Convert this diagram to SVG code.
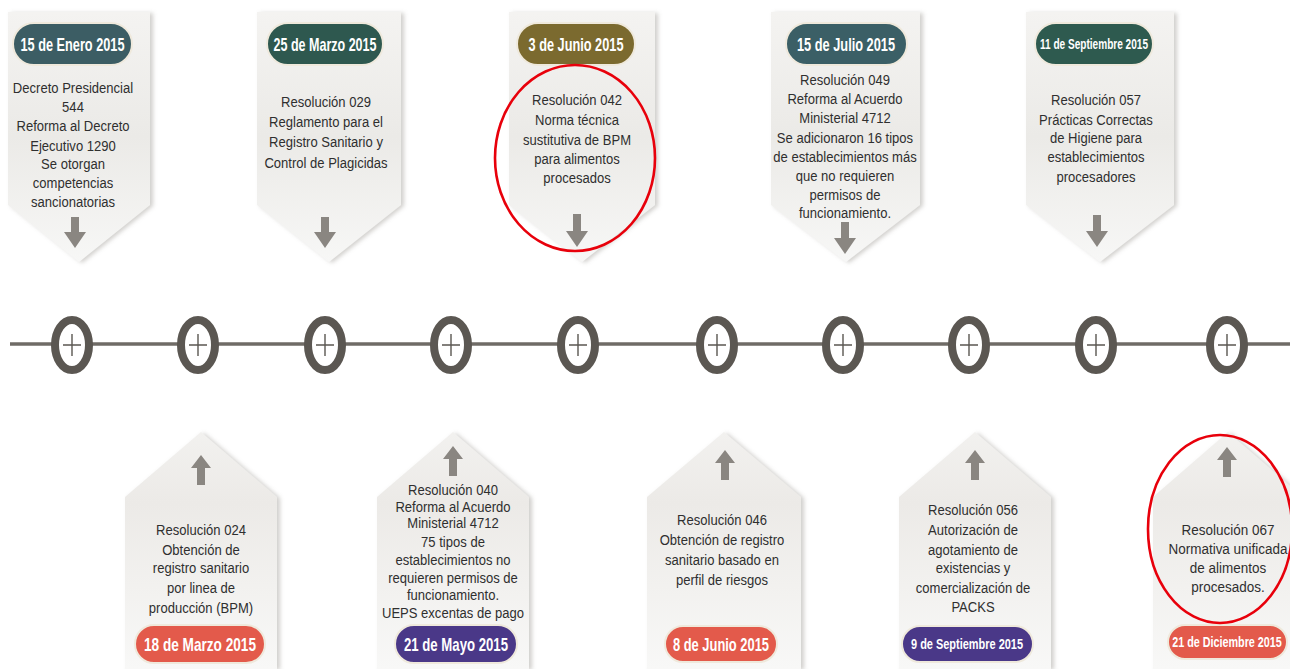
<svg xmlns="http://www.w3.org/2000/svg" width="1290" height="669" viewBox="0 0 1290 669">
<defs>
<linearGradient id="gTop" x1="0" y1="0" x2="0" y2="1">
<stop offset="0" stop-color="#f4f3f1"/>
<stop offset="0.5" stop-color="#ebeae7"/>
<stop offset="1" stop-color="#f7f7f6"/>
</linearGradient>
<linearGradient id="gBot" x1="0" y1="0" x2="0" y2="1">
<stop offset="0" stop-color="#f2f1ef"/>
<stop offset="0.3" stop-color="#eceae7"/>
<stop offset="1" stop-color="#f8f8f7"/>
</linearGradient>
<filter id="sh" x="-10%" y="-10%" width="130%" height="130%">
<feDropShadow dx="3" dy="1" stdDeviation="2" flood-color="#9a968f" flood-opacity="0.45"/>
</filter>
<style>
.card{stroke:none;filter:url(#sh)}
.body{font-family:"Liberation Sans",Arial,sans-serif;font-size:15px;fill:#2f2f2f;text-anchor:middle}
.date{font-family:"Liberation Sans",Arial,sans-serif;font-weight:bold;font-size:19px;fill:#ffffff;text-anchor:middle}
.pill{stroke:#efe9dc;stroke-width:2}
.arr{fill:#8a8681}
.node{fill:#ffffff;stroke:#5b5752;stroke-width:8}
.plus{stroke:#5b5752;stroke-width:1.4}
.mark{fill:none;stroke:#e8000b;stroke-width:2.6}
</style>
</defs>
<rect width="1290" height="669" fill="#ffffff"/>

<g id="connectors">
<line x1="10" y1="344" x2="1290" y2="344" stroke="#6f6b66" stroke-width="3.5"/>
</g>

<g id="card-15-enero">
<polygon class="card" fill="url(#gTop)" points="8,12 150,12 150,205 79,262 8,205"/>
<rect class="pill" x="13" y="23" width="119" height="42" rx="21" fill="#3c5d64"/>
<text class="date" x="72.5" y="51" textLength="104" lengthAdjust="spacingAndGlyphs">15 de Enero 2015</text>
<text class="body" transform="translate(73 0) scale(0.87 1)"><tspan x="0" y="93">Decreto Presidencial</tspan><tspan x="0" y="112">544</tspan><tspan x="0" y="131">Reforma al Decreto</tspan><tspan x="0" y="151">Ejecutivo 1290</tspan><tspan x="0" y="169">Se otorgan</tspan><tspan x="0" y="188">competencias</tspan><tspan x="0" y="207">sancionatorias</tspan></text>
<polygon class="arr" points="71,217 79,217 79,232 86,232 75,248 64,232 71,232"/>
</g>

<g id="card-25-marzo">
<polygon class="card" fill="url(#gTop)" points="257,12 401,12 401,205 329,262 257,205"/>
<rect class="pill" x="267" y="23" width="116" height="42" rx="21" fill="#2e584f"/>
<text class="date" x="325" y="51" textLength="103" lengthAdjust="spacingAndGlyphs">25 de Marzo 2015</text>
<text class="body" transform="translate(326 0) scale(0.87 1)"><tspan x="0" y="107">Resolución 029</tspan><tspan x="0" y="127">Reglamento para el</tspan><tspan x="0" y="147">Registro Sanitario y</tspan><tspan x="0" y="168">Control de Plagicidas</tspan></text>
<polygon class="arr" points="321,217 329,217 329,232 336,232 325,248 314,232 321,232"/>
</g>

<g id="card-3-junio">
<polygon class="card" fill="url(#gTop)" points="509,12 655,12 655,205 582,262 509,205"/>
<rect class="pill" x="517" y="23" width="118" height="42" rx="21" fill="#7b6a2f"/>
<text class="date" x="576" y="51" textLength="95" lengthAdjust="spacingAndGlyphs">3 de Junio 2015</text>
<text class="body" transform="translate(577 0) scale(0.87 1)"><tspan x="0" y="105">Resolución 042</tspan><tspan x="0" y="125">Norma técnica</tspan><tspan x="0" y="145">sustitutiva de BPM</tspan><tspan x="0" y="164">para alimentos</tspan><tspan x="0" y="183">procesados</tspan></text>
<polygon class="arr" points="573,214 581,214 581,231 588,231 577,247 566,231 573,231"/>
</g>

<g id="card-15-julio">
<polygon class="card" fill="url(#gTop)" points="771,12 920,12 920,205 846,262 771,205"/>
<rect class="pill" x="786" y="23" width="121" height="42" rx="21" fill="#3b5f66"/>
<text class="date" x="846" y="51" textLength="98" lengthAdjust="spacingAndGlyphs">15 de Julio 2015</text>
<text class="body" transform="translate(845 0) scale(0.87 1)"><tspan x="0" y="85">Resolución 049</tspan><tspan x="0" y="104">Reforma al Acuerdo</tspan><tspan x="0" y="123">Ministerial 4712</tspan><tspan x="0" y="143">Se adicionaron 16 tipos</tspan><tspan x="0" y="162">de establecimientos más</tspan><tspan x="0" y="181">que no requieren</tspan><tspan x="0" y="200">permisos de</tspan><tspan x="0" y="218">funcionamiento.</tspan></text>
<polygon class="arr" points="841,222 849,222 849,238 856,238 845,254 834,238 841,238"/>
</g>

<g id="card-11-septiembre">
<polygon class="card" fill="url(#gTop)" points="1026,12 1174,12 1174,205 1100,262 1026,205"/>
<rect class="pill" x="1035" y="23" width="118" height="42" rx="21" fill="#2e5a4f"/>
<text class="date" x="1094" y="49" style="font-size:14px" textLength="108" lengthAdjust="spacingAndGlyphs">11 de Septiembre 2015</text>
<text class="body" transform="translate(1096 0) scale(0.87 1)"><tspan x="0" y="105">Resolución 057</tspan><tspan x="0" y="125">Prácticas Correctas</tspan><tspan x="0" y="143">de Higiene para</tspan><tspan x="0" y="162">establecimientos</tspan><tspan x="0" y="182">procesadores</tspan></text>
<polygon class="arr" points="1093,215 1101,215 1101,231 1108,231 1097,247 1086,231 1093,231"/>
</g>

<g id="card-18-marzo">
<polygon class="card" fill="url(#gBot)" points="125,669 125,497 201,432 277,497 277,669"/>
<polygon class="arr" points="201,455 211,468 205,468 205,485 197,485 197,468 191,468"/>
<text class="body" transform="translate(201 0) scale(0.87 1)"><tspan x="0" y="535">Resolución 024</tspan><tspan x="0" y="555">Obtención de</tspan><tspan x="0" y="573">registro sanitario</tspan><tspan x="0" y="593">por linea de</tspan><tspan x="0" y="613">producción (BPM)</tspan></text>
<rect class="pill" x="135" y="625" width="130" height="38" rx="19" fill="#e35a4b"/>
<text class="date" x="200" y="651" textLength="112" lengthAdjust="spacingAndGlyphs">18 de Marzo 2015</text>
</g>

<g id="card-21-mayo">
<polygon class="card" fill="url(#gBot)" points="377,669 377,497 453,432 529,497 529,669"/>
<polygon class="arr" points="453,446 463,459 457,459 457,476 449,476 449,459 443,459"/>
<text class="body" transform="translate(453 0) scale(0.87 1)"><tspan x="0" y="495">Resolución 040</tspan><tspan x="0" y="512">Reforma al Acuerdo</tspan><tspan x="0" y="528">Ministerial 4712</tspan><tspan x="0" y="547">75 tipos de</tspan><tspan x="0" y="565">establecimientos no</tspan><tspan x="0" y="583">requieren permisos de</tspan><tspan x="0" y="600">funcionamiento.</tspan><tspan x="0" y="618">UEPS excentas de pago</tspan></text>
<rect class="pill" x="395" y="625" width="122" height="38" rx="19" fill="#4a3888"/>
<text class="date" x="456" y="651" textLength="104" lengthAdjust="spacingAndGlyphs">21 de Mayo 2015</text>
</g>

<g id="card-8-junio">
<polygon class="card" fill="url(#gBot)" points="647,669 647,497 724,432 801,497 801,669"/>
<polygon class="arr" points="725,450 735,463 729,463 729,480 721,480 721,463 715,463"/>
<text class="body" transform="translate(722 0) scale(0.87 1)"><tspan x="0" y="525">Resolución 046</tspan><tspan x="0" y="545">Obtención de registro</tspan><tspan x="0" y="565">sanitario basado en</tspan><tspan x="0" y="585">perfil de riesgos</tspan></text>
<rect class="pill" x="665" y="626" width="112" height="36" rx="18" fill="#e35a4b"/>
<text class="date" x="721" y="651" textLength="96" lengthAdjust="spacingAndGlyphs">8 de Junio 2015</text>
</g>

<g id="card-9-septiembre">
<polygon class="card" fill="url(#gBot)" points="899,669 899,497 975,432 1051,497 1051,669"/>
<polygon class="arr" points="975,450 985,463 979,463 979,480 971,480 971,463 965,463"/>
<text class="body" transform="translate(973 0) scale(0.87 1)"><tspan x="0" y="515">Resolución 056</tspan><tspan x="0" y="535">Autorización de</tspan><tspan x="0" y="555">agotamiento de</tspan><tspan x="0" y="573">existencias y</tspan><tspan x="0" y="593">comercialización de</tspan><tspan x="0" y="612">PACKS</tspan></text>
<rect class="pill" x="902" y="626" width="131" height="36" rx="18" fill="#4a3888"/>
<text class="date" x="967" y="649" style="font-size:15px" textLength="112" lengthAdjust="spacingAndGlyphs">9 de Septiembre  2015</text>
</g>

<g id="card-21-diciembre">
<polygon class="card" fill="url(#gBot)" points="1153,669 1153,497 1228,432 1303,497 1303,669"/>
<polygon class="arr" points="1227,447 1237,460 1231,460 1231,477 1223,477 1223,460 1217,460"/>
<text class="body" transform="translate(1228 0) scale(0.87 1)" style="font-size:15.5px"><tspan x="0" y="535">Resolución 067</tspan><tspan x="0" y="554">Normativa unificada</tspan><tspan x="0" y="573">de alimentos</tspan><tspan x="0" y="592">procesados.</tspan></text>
<rect class="pill" x="1168" y="625" width="119" height="34" rx="17" fill="#e35a4b"/>
<text class="date" transform="translate(1227 647) scale(0.72 1)" x="0" y="0" style="font-size:15px">21 de Diciembre 2015</text>
</g>

<g id="nodes">
<g id="n1"><ellipse class="node" cx="72" cy="345" rx="17" ry="25"/><path class="plus" d="M63,345H81M72,334V356"/></g>
<g id="n2"><ellipse class="node" cx="198" cy="345" rx="17" ry="25"/><path class="plus" d="M189,345H207M198,334V356"/></g>
<g id="n3"><ellipse class="node" cx="325" cy="345" rx="17" ry="25"/><path class="plus" d="M316,345H334M325,334V356"/></g>
<g id="n4"><ellipse class="node" cx="451" cy="345" rx="17" ry="25"/><path class="plus" d="M442,345H460M451,334V356"/></g>
<g id="n5"><ellipse class="node" cx="578" cy="345" rx="17" ry="25"/><path class="plus" d="M569,345H587M578,334V356"/></g>
<g id="n6"><ellipse class="node" cx="717" cy="345" rx="17" ry="25"/><path class="plus" d="M708,345H726M717,334V356"/></g>
<g id="n7"><ellipse class="node" cx="843" cy="345" rx="17" ry="25"/><path class="plus" d="M834,345H852M843,334V356"/></g>
<g id="n8"><ellipse class="node" cx="969" cy="345" rx="17" ry="25"/><path class="plus" d="M960,345H978M969,334V356"/></g>
<g id="n9"><ellipse class="node" cx="1096" cy="345" rx="17" ry="25"/><path class="plus" d="M1087,345H1105M1096,334V356"/></g>
<g id="n10"><ellipse class="node" cx="1227" cy="345" rx="17" ry="25"/><path class="plus" d="M1218,345H1236M1227,334V356"/></g>
</g>

<g id="highlights">
<ellipse class="mark" cx="575" cy="158" rx="80" ry="93"/>
<ellipse class="mark" cx="1220" cy="529" rx="72" ry="94"/>
</g>
</svg>
